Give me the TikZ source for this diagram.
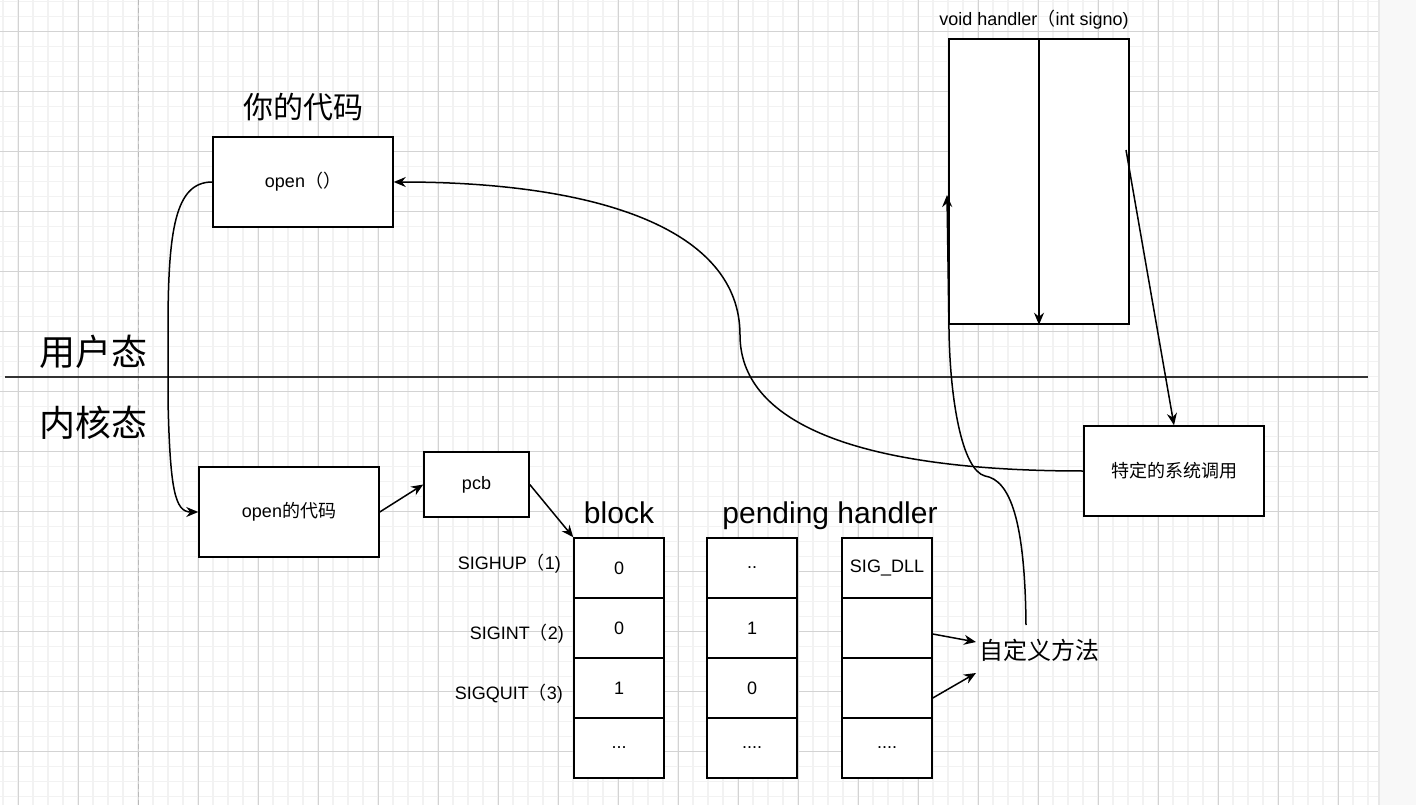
\documentclass[tikz,border=0pt]{standalone}
\usepackage{fontspec}
\setmainfont{Liberation Sans}
\newfontfamily\cjk{Noto Sans CJK SC}
\usetikzlibrary{arrows.meta}
\definecolor{gmajor}{HTML}{D3D3D3}
\definecolor{gminor}{HTML}{F2F2F2}
\definecolor{band}{HTML}{F8F8F8}
\definecolor{divider}{HTML}{333333}
\begin{document}
\begin{tikzpicture}[x=1pt,y=-1pt,
  fs18/.style={font=\fontsize{18}{22}\selectfont},
  box/.style={draw=black,line width=1.5pt,fill=white,minimum width=180pt,minimum height=90pt,inner sep=0pt,fs18},
  cell/.style={draw=black,line width=1.5pt,fill=white,minimum width=90pt,minimum height=60pt,inner sep=0pt,fs18},
  lbl/.style={inner sep=0pt,fs18},
  bigtitle/.style={inner sep=0pt,font=\fontsize{30}{36}\selectfont},
  statetitle/.style={inner sep=0pt,font=\fontsize{36}{42}\selectfont\cjk},
  arr/.style={line width=1.5pt,-{Stealth[length=12pt,width=10pt]}},
  minorline/.style={gminor,line width=1.8pt},
  majorline/.style={gmajor,line width=1pt}
]
\useasboundingbox (0,0) rectangle (1416,805);
\fill[white] (0,0) rectangle (1416,805);
% grid
\begin{scope}
\clip (0,0) rectangle (1378,805);
\foreach \x in {3,18,...,1378} \draw[minorline] (\x,0) -- (\x,805);
\foreach \y in {1.5,16.5,...,805} \draw[minorline] (0,\y) -- (1378,\y);
\foreach \x in {18,78,...,1378} \draw[majorline] (\x,0) -- (\x,805);
\foreach \y in {31.5,91.5,...,805} \draw[majorline] (0,\y) -- (1378,\y);
\end{scope}
\fill[band] (1378,0) rectangle (1416,805);
\draw[gray!18,line width=2pt] (1379,0) -- (1379,805);
\draw[gray!55,line width=1.2pt,dash pattern=on 5pt off 3pt] (138.5,0) -- (138.5,805);

% user / kernel divider
\coordinate (divL) at (5,376.5);
\coordinate (divR) at (1368,376.5);
\draw[divider,line width=2pt] (divL) -- (divR);
\node[statetitle] (user) at (93,352) {用户态};
\node[statetitle] (kernel) at (93,423) {内核态};

% user code
\node[inner sep=0pt,font=\fontsize{30}{36}\selectfont\cjk] (yourcode) at (303,107) {你的代码};
\node[box] (open) at (303,182) {open{\cjk （）}};

% handler
\node[draw=black,line width=1.5pt,fill=white,minimum width=180pt,minimum height=285pt,inner sep=0pt] (hbox) at (1039,181.5) {};
\node[lbl] (hlabel) at (1034,20) {void handler{\cjk （}int signo)};
\draw[arr] (hbox.north) -- (hbox.south);

% system call
\node[box] (sys) at (1174,471) {\cjk 特定的系统调用};
\coordinate (hs) at (1126,150);
\draw[arr] (hs) -- (sys.north);

% kernel code
\node[box] (oc) at (289,512) {open{\cjk 的代码}};
\node[box,minimum width=105pt,minimum height=65pt] (pcb) at (476.5,484.5) {pcb};

% tables
\node[bigtitle,anchor=base] (tblock) at (619,523) {block};
\node[bigtitle,anchor=base] (tpend) at (830,523) {pending handler};

\node[cell] (b1) at (619,568) {0};
\node[cell] (b2) at (619,628) {0};
\node[cell] (b3) at (619,688) {1};
\node[cell] (b4) at (619,748) {...};

\node[cell] (p1) at (752,568) {..};
\node[cell] (p2) at (752,628) {1};
\node[cell] (p3) at (752,688) {0};
\node[cell] (p4) at (752,748) {....};

\node[cell] (h1) at (887,568) {SIG\_DLL};
\node[cell] (h2) at (887,628) {};
\node[cell] (h3) at (887,688) {};
\node[cell] (h4) at (887,748) {....};

\node[lbl,anchor=east] (s1) at (561,564) {SIGHUP{\cjk （}1)};
\node[lbl,anchor=east] (s2) at (564,634) {SIGINT{\cjk （}2)};
\node[lbl,anchor=east] (s3) at (563,694) {SIGQUIT{\cjk （}3)};

\node[inner sep=0pt,anchor=west,font=\fontsize{24}{28}\selectfont\cjk] (cm) at (979,650) {自定义方法};

% connectors
\draw[arr] (oc.east) -- (pcb.west);
\draw[arr] (pcb.east) -- (b1.north west);
\draw[arr] ([yshift=-6pt]h2.east) -- ([xshift=-3pt,yshift=8pt]cm.west);
\draw[arr] ([yshift=-10pt]h3.east) -- ([xshift=-3pt,yshift=-23pt]cm.west);

\draw[arr] (open.west) .. controls (175,182) and (168,230) .. (168,330) -- (168,400) .. controls (170,490) and (175,512) .. (oc.west);

\draw[arr] (sys.west) .. controls (850,471) and (740,420) .. (740,335) .. controls (740,230) and (600,182) .. (open.east);

\coordinate (cmtop) at (1026,625);
\coordinate (hin) at (947,195);
\draw[arr] (cmtop) .. controls (1025,520) and (1010,480) .. (985,476) .. controls (962,470) and (950,400) .. (949,330) -- (hin);
\end{tikzpicture}
\end{document}
